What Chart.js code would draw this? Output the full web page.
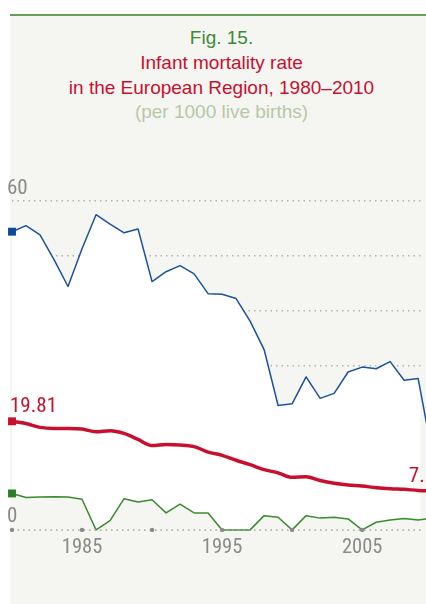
<!DOCTYPE html>
<html>
<head>
<meta charset="utf-8">
<script src="https://cdn.jsdelivr.net/npm/chart.js@4.4.1/dist/chart.umd.min.js"></script>
<style>
  body { margin: 0; background: #fff; width: 426px; height: 604px; overflow: hidden; position: relative; }
  .panel { position: absolute; left: 10px; top: 14px; width: 416px; height: 590px; background: #f5f5f1; border-top: 2px solid #64a158; box-sizing: border-box; }
  .title { position: absolute; left: 10px; width: 423px; top: 26px; text-align: center; font: 19px/24.8px "Liberation Sans", Arial, sans-serif; }
  .title div { white-space: nowrap; }
  .fig { color: #3d8b37; }
  .main { color: #c8102e; }
  .sub { color: #b5c9a6; }
  canvas { position: absolute; left: 0; top: 0; }
</style>
</head>
<body>
<div class="panel"></div>
<div class="title">
  <div class="fig">Fig. 15.</div>
  <div class="main">Infant mortality rate</div>
  <div class="main">in the European Region, 1980–2010</div>
  <div class="sub">(per 1000 live births)</div>
</div>
<canvas id="chart" width="426" height="604"></canvas>
<script>
const years = [1980, 1981, 1982, 1983, 1984, 1985, 1986, 1987, 1988, 1989,
  1990, 1991, 1992, 1993, 1994, 1995, 1996, 1997, 1998, 1999,
  2000, 2001, 2002, 2003, 2004, 2005, 2006, 2007, 2008, 2009, 2010];
// highest country value
const maxCountry = [54.4, 55.5, 53.8, 49.3, 44.4, 51.3, 57.5, 55.8, 54.2, 54.9,
  45.3, 47.1, 48.2, 46.7, 43.1, 43.0, 42.2, 38.1, 32.9, 22.7,
  23.0, 27.9, 24.0, 24.9, 28.8, 29.7, 29.4, 30.7, 27.3, 27.6, 14.0];
// European Region average
const regionAvg = [19.81, 19.4, 18.7, 18.5, 18.5, 18.4, 17.9, 18.1, 17.6, 16.5,
  15.4, 15.6, 15.5, 15.2, 14.2, 13.6, 12.7, 11.9, 11.0, 10.4,
  9.6, 9.7, 9.0, 8.5, 8.2, 8.0, 7.7, 7.5, 7.4, 7.2, 7.12];
// lowest country value
const minCountry = [6.65, 5.9, 6.0, 6.05, 6.0, 5.6, 0, 1.7, 5.7, 5.1,
  5.5, 3.1, 4.7, 3.1, 3.1, 0, 0, 0, 2.6, 2.3,
  0, 2.6, 2.15, 2.3, 2.0, 0, 1.4, 1.8, 2.1, 1.8, 2.1];

const tickYears = [1980, 1985, 1990, 1995, 2000, 2005];
const labeledYears = [1985, 1995, 2005];
const yLabelValues = [0, 60];

const RED = "#c8102e", BLUE = "#1a52a0", GREEN = "#3a8a2e", PANEL = "#f5f5f1";
const numFont = '21px "Liberation Sans Narrow", "Roboto Condensed", Roboto, sans-serif';

function pairs(vals) {
  return years.map((yr, i) => ({ x: yr, y: vals[i] }));
}
function firstSquare(size) {
  return ctx => (ctx.dataIndex === 0 ? size : 0);
}

const figLabels = {
  id: "figLabels",
  afterDatasetsDraw(chart) {
    const { ctx, chartArea, scales: { x, y } } = chart;
    const zeroY = y.getPixelForValue(0);
    ctx.save();
    // dotted zero line with year dots
    ctx.strokeStyle = "#aaaaa6";
    ctx.lineWidth = 1.5;
    ctx.setLineDash([1.5, 4]);
    ctx.beginPath();
    ctx.moveTo(chartArea.left, zeroY);
    ctx.lineTo(chartArea.right, zeroY);
    ctx.stroke();
    ctx.setLineDash([]);
    ctx.fillStyle = "#8a8a8a";
    tickYears.forEach(yr => {
      ctx.beginPath();
      ctx.arc(x.getPixelForValue(yr), zeroY, 2.2, 0, Math.PI * 2);
      ctx.fill();
    });
    // y value labels
    ctx.font = numFont;
    ctx.textBaseline = "alphabetic";
    ctx.textAlign = "left";
    yLabelValues.forEach(v => {
      ctx.fillText(String(v), chartArea.left - 5, y.getPixelForValue(v) - 7.5);
    });
    // start / end values of the region line
    const pts = chart.getDatasetMeta(0).data;
    const first = pts[0], last = pts[pts.length - 1];
    ctx.fillStyle = RED;
    ctx.fillText(regionAvg[0].toFixed(2), first.x - 2, first.y - 9);
    ctx.textAlign = "center";
    ctx.fillText(regionAvg[regionAvg.length - 1].toFixed(2), last.x - 5, last.y - 9);
    ctx.restore();
  }
};

new Chart(document.getElementById("chart"), {
  type: "line",
  data: {
    datasets: [
      {
        label: "European Region",
        data: pairs(regionAvg),
        borderColor: RED,
        borderWidth: 3.5,
        fill: false,
        cubicInterpolationMode: "monotone",
        pointStyle: "rect",
        pointRadius: firstSquare(5.6),
        pointBackgroundColor: RED,
        pointBorderWidth: 0,
        clip: false,
      },
      {
        label: "Lowest",
        data: pairs(minCountry),
        borderColor: GREEN,
        borderWidth: 1.5,
        fill: "origin",
        backgroundColor: PANEL,
        pointStyle: "rect",
        pointRadius: firstSquare(5.6),
        pointBackgroundColor: "#2e7d27",
        pointBorderWidth: 0,
        clip: false,
      },
      {
        label: "Highest",
        data: pairs(maxCountry),
        borderColor: BLUE,
        borderWidth: 1.5,
        fill: "origin",
        backgroundColor: "#ffffff",
        pointStyle: "rect",
        pointRadius: firstSquare(5.6),
        pointBackgroundColor: "#0e4a96",
        pointBorderWidth: 0,
        clip: false,
      },
    ],
  },
  options: {
    responsive: false,
    animation: false,
    devicePixelRatio: 1,
    layout: {
      padding: { left: 12, right: 0, top: 201, bottom: 37.5 },
    },
    plugins: {
      legend: { display: false },
      tooltip: { enabled: false },
    },
    elements: {
      line: { borderJoinStyle: "round" },
    },
    scales: {
      x: {
        type: "linear",
        min: 1980,
        max: 2009.16,
        afterBuildTicks: scale => {
          scale.ticks = tickYears.map(v => ({ value: v }));
        },
        grid: { display: false, drawTicks: false },
        border: { display: false },
        ticks: {
          padding: 6,
          color: "#8a8a8a",
          maxRotation: 0,
          autoSkip: false,
          font: { family: '"Liberation Sans Narrow", "Roboto Condensed", Roboto, sans-serif', size: 20.5 },
          callback: v => (labeledYears.includes(v) ? String(v) : ""),
        },
      },
      y: {
        min: 0,
        max: 60,
        ticks: { display: false, stepSize: 10 },
        grid: { color: "#b3b3af", lineWidth: 1.5, drawTicks: false },
        border: { display: false, dash: [1.5, 4] },
      },
    },
  },
  plugins: [figLabels],
});
</script>
</body>
</html>
